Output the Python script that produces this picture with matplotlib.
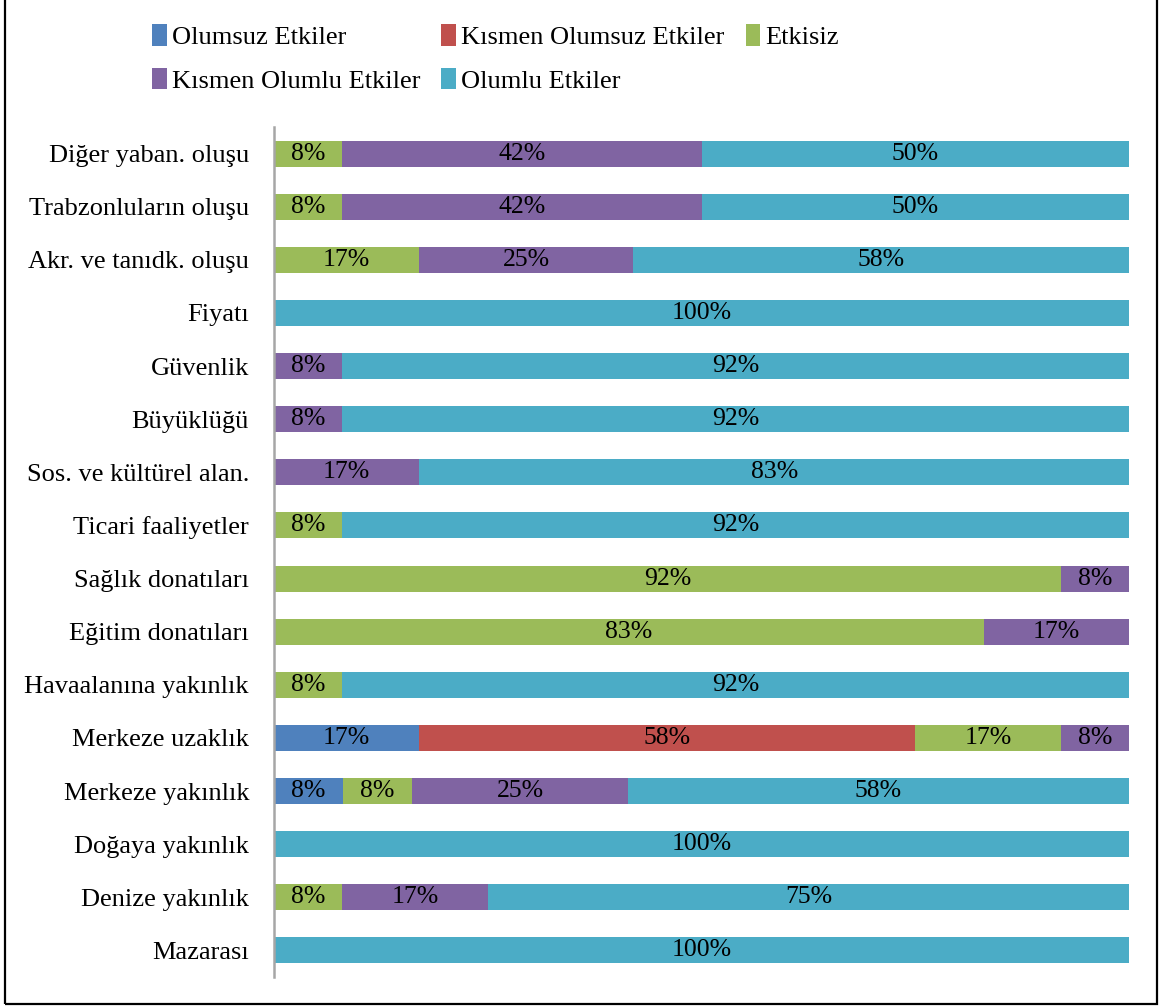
import matplotlib
matplotlib.use("Agg")
import matplotlib.pyplot as plt
from matplotlib.patches import Rectangle, Patch
import numpy as np

plt.rcParams['font.family'] = ['Liberation Serif', 'DejaVu Serif']

categories = ["Diğer yaban. oluşu", "Trabzonluların oluşu", "Akr. ve tanıdk. oluşu",
              "Fiyatı", "Güvenlik", "Büyüklüğü", "Sos. ve kültürel alan.",
              "Ticari faaliyetler", "Sağlık donatıları", "Eğitim donatıları",
              "Havaalanına yakınlık", "Merkeze uzaklık", "Merkeze yakınlık",
              "Doğaya yakınlık", "Denize yakınlık", "Mazarası"]

series_names = ["Olumsuz Etkiler", "Kısmen Olumsuz Etkiler", "Etkisiz",
                "Kısmen Olumlu Etkiler", "Olumlu Etkiler"]

olumsuz        = [0, 0, 0, 0, 0, 0, 0, 0, 0, 0, 0, 17, 8, 0, 0, 0]
kismen_olumsuz = [0, 0, 0, 0, 0, 0, 0, 0, 0, 0, 0, 58, 0, 0, 0, 0]
etkisiz        = [8, 8, 17, 0, 0, 0, 0, 8, 92, 83, 8, 17, 8, 0, 8, 0]
kismen_olumlu  = [42, 42, 25, 0, 8, 8, 17, 0, 8, 17, 0, 8, 25, 0, 17, 0]
olumlu         = [50, 50, 58, 100, 92, 92, 83, 92, 0, 0, 92, 0, 58, 100, 75, 100]

colors = ["#4F81BD", "#C0504D", "#9BBB59", "#8064A2", "#4BACC6"]

series = [olumsuz, kismen_olumsuz, etkisiz, kismen_olumlu, olumlu]
# 100% stacked: normalise each row to its total
totals = np.sum(np.array(series, dtype=float), axis=0)

SERIF = ['Liberation Serif', 'DejaVu Serif']

fig = plt.figure(figsize=(11.59, 10.06), dpi=100)
ax = fig.add_axes([274/1159, 1 - 977/1006, (1129-274)/1159, (977-127)/1006])

y = np.arange(len(categories))
left = np.zeros(len(categories))
handles = []
for vals, name, col in zip(series, series_names, colors):
    vals = np.array(vals, dtype=float)
    widths = vals / totals * 100
    bars = ax.barh(y, widths, left=left, height=0.49, color=col, label=name)
    labels = [f"{int(v)}%" if v > 0 else "" for v in vals]
    ax.bar_label(bars, labels=labels, label_type='center', fontsize=18.5, color='black',
                 family=SERIF)
    left += widths
    handles.append(Patch(facecolor=col, label=name))

ax.set_xlim(0, 100)
ax.set_ylim(len(categories) - 0.5, -0.5)
ax.set_yticks(y)
ax.set_yticklabels(categories, fontsize=19, family=SERIF)
ax.tick_params(axis='y', length=0, pad=18)
ax.set_xticks([])
for s in ['top', 'right', 'bottom']:
    ax.spines[s].set_visible(False)
ax.spines['left'].set_color('#a6a6a6')
ax.spines['left'].set_linewidth(1.8)

# legend: column-wise fill -> reorder to get row-wise layout
order = [0, 3, 1, 4, 2]
leg = fig.legend([handles[i] for i in order], [series_names[i] for i in order],
                 ncol=3, loc='upper left', bbox_to_anchor=(152/1159, 1 - 24/1006),
                 frameon=False, fontsize=19, handlelength=0.55, handleheight=0.9,
                 handletextpad=0.2, columnspacing=0.8, labelspacing=0.7,
                 borderaxespad=0, borderpad=0)
for t in leg.get_texts():
    t.set_fontfamily(SERIF)
    t.set_fontsize(19)

# figure border
fig.patches.append(Rectangle((5/1159, 1 - 1004/1006), (1157-5)/1159, 1004/1006 + 0.01,
                             transform=fig.transFigure, fill=False,
                             edgecolor='black', linewidth=1.6, zorder=10))

fig.savefig("out.png", dpi=100)
